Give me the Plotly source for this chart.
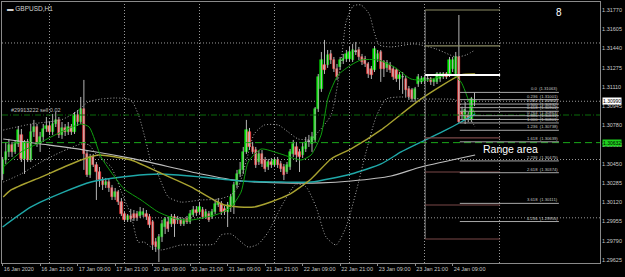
import plotly.graph_objects as go

# ---------------- data (GBPUSD H1) ----------------
opens = [1.30363,1.30483,1.30552,1.30612,1.30552,1.30621,1.30698,1.30492,1.30638,1.30483,
1.30724,1.30766,1.30621,1.30681,1.30749,1.30775,1.30724,1.30792,1.30827,1.30698,
1.30758,1.30724,1.30766,1.30724,1.30869,1.30809,1.30921,1.30535,1.30355,1.30509,
1.30440,1.30380,1.30311,1.30269,1.30295,1.30243,1.30166,1.30209,1.30123,1.30020,
1.29969,1.30003,1.30020,1.30020,1.30003,1.30011,1.30020,1.29994,1.29951,1.29780,
1.29720,1.29823,1.29908,1.29951,1.29934,1.29994,1.29969,1.29969,1.29934,1.29977,
1.29951,1.30011,1.30054,1.30037,1.30054,1.29994,1.30020,1.29994,1.30037,1.30097,
1.30106,1.30063,1.30037,1.30080,1.30097,1.30269,1.30363,1.30398,1.30552,1.30724,
1.30595,1.30569,1.30466,1.30535,1.30483,1.30423,1.30466,1.30440,1.30483,1.30449,
1.30423,1.30380,1.30423,1.30535,1.30595,1.30552,1.30526,1.30578,1.30638,1.30621,
1.30655,1.30921,1.31093,1.31298,1.31298,1.31393,1.31341,1.31264,1.31281,1.31333,
1.31350,1.31350,1.31341,1.31410,1.31427,1.31367,1.31350,1.31307,1.31264,1.31256,
1.31350,1.31410,1.31324,1.31273,1.31298,1.31264,1.31256,1.31178,1.31195,1.31178,
1.31093,1.31084,1.31007,1.31135,1.31153,1.31161,1.31178,1.31178,1.31153,1.31153,
1.31178,1.31195,1.31221,1.31213,1.31264,1.31221,1.31367,1.30895,1.30835,1.30869,
1.30827,1.30981]
highs = [1.30509,1.30638,1.30664,1.30638,1.30655,1.30775,1.30749,1.30655,1.30664,1.30792,
1.30827,1.30792,1.30724,1.30792,1.30852,1.30809,1.30878,1.30895,1.30852,1.30809,
1.30792,1.30809,1.30792,1.30895,1.30912,1.31024,1.31170,1.30569,1.30535,1.30535,
1.30466,1.30423,1.30337,1.30329,1.30320,1.30269,1.30243,1.30226,1.30157,1.30037,
1.30020,1.30063,1.30054,1.30046,1.30080,1.30071,1.30054,1.30020,1.29969,1.29814,
1.29848,1.29969,1.29994,1.29994,1.30020,1.30020,1.30003,1.29994,1.29986,1.30003,
1.30054,1.30088,1.30088,1.30123,1.30080,1.30063,1.30046,1.30063,1.30140,1.30157,
1.30131,1.30088,1.30123,1.30192,1.30295,1.30398,1.30466,1.30595,1.30827,1.30758,
1.30638,1.30595,1.30569,1.30569,1.30509,1.30492,1.30500,1.30509,1.30509,1.30475,
1.30449,1.30466,1.30578,1.30655,1.30638,1.30578,1.30638,1.30681,1.30698,1.30724,
1.30938,1.31221,1.31410,1.31513,1.31427,1.31427,1.31367,1.31307,1.31367,1.31393,
1.31427,1.31453,1.31479,1.31496,1.31453,1.31393,1.31376,1.31324,1.31290,1.31461,
1.31427,1.31427,1.31341,1.31341,1.31324,1.31290,1.31273,1.31238,1.31238,1.31204,
1.31118,1.31101,1.31110,1.31221,1.31204,1.31213,1.31204,1.31195,1.31187,1.31238,
1.31238,1.31238,1.31238,1.31367,1.31367,1.31410,1.31727,1.30938,1.30981,1.30895,
1.31024,1.31063]
lows = [1.30311,1.30449,1.30509,1.30509,1.30535,1.30595,1.30466,1.30363,1.30466,1.30466,
1.30681,1.30595,1.30552,1.30638,1.30724,1.30698,1.30698,1.30766,1.30672,1.30664,
1.30689,1.30698,1.30698,1.30706,1.30775,1.30792,1.30398,1.30337,1.30329,1.30423,
1.30140,1.30252,1.30226,1.30243,1.30209,1.30140,1.30140,1.30097,1.30003,1.29951,
1.29951,1.29951,1.29960,1.29960,1.29986,1.29994,1.29969,1.29900,1.29711,1.29694,
1.29608,1.29780,1.29848,1.29866,1.29908,1.29823,1.29934,1.29917,1.29917,1.29934,
1.29934,1.29994,1.30003,1.30020,1.29977,1.29977,1.29951,1.29977,1.30020,1.30080,
1.30011,1.30011,1.29908,1.30037,1.30020,1.30243,1.30337,1.30363,1.30535,1.30569,
1.30535,1.30415,1.30440,1.30423,1.30380,1.30398,1.30415,1.30423,1.30415,1.30380,
1.30311,1.30363,1.30398,1.30509,1.30466,1.30380,1.30500,1.30552,1.30595,1.30552,
1.30638,1.30895,1.31067,1.31221,1.31273,1.31307,1.31238,1.31170,1.31256,1.31307,
1.31324,1.31324,1.31324,1.31384,1.31341,1.31298,1.31281,1.31187,1.31178,1.31238,
1.31324,1.31153,1.31195,1.31238,1.31230,1.31170,1.31153,1.31084,1.31050,1.31024,
1.30998,1.30981,1.30981,1.31110,1.31135,1.31135,1.31153,1.31127,1.31118,1.31135,
1.31153,1.31178,1.31178,1.31195,1.31238,1.31204,1.30801,1.30827,1.30792,1.30809,
1.30809,1.30946]
closes = [1.30483,1.30552,1.30612,1.30552,1.30621,1.30741,1.30492,1.30638,1.30483,1.30724,
1.30766,1.30621,1.30681,1.30749,1.30775,1.30724,1.30792,1.30827,1.30698,1.30758,
1.30724,1.30766,1.30724,1.30869,1.30809,1.30921,1.30535,1.30355,1.30509,1.30440,
1.30380,1.30311,1.30269,1.30295,1.30243,1.30166,1.30209,1.30123,1.30020,1.29969,
1.30003,1.29977,1.29986,1.29986,1.30037,1.30037,1.29994,1.29926,1.29754,1.29737,
1.29823,1.29934,1.29977,1.29891,1.29994,1.29934,1.29969,1.29934,1.29960,1.29951,
1.30020,1.30054,1.30028,1.30080,1.29994,1.30037,1.29969,1.30037,1.30106,1.30123,
1.30037,1.30037,1.30097,1.30166,1.30269,1.30363,1.30398,1.30552,1.30741,1.30595,
1.30552,1.30440,1.30535,1.30449,1.30406,1.30466,1.30440,1.30483,1.30440,1.30406,
1.30355,1.30440,1.30552,1.30621,1.30526,1.30509,1.30595,1.30638,1.30638,1.30681,
1.30921,1.31195,1.31341,1.31256,1.31384,1.31341,1.31264,1.31195,1.31341,1.31350,
1.31393,1.31410,1.31427,1.31410,1.31367,1.31324,1.31307,1.31221,1.31213,1.31436,
1.31393,1.31264,1.31264,1.31316,1.31256,1.31195,1.31178,1.31213,1.31195,1.31084,
1.31024,1.31007,1.31093,1.31195,1.31178,1.31187,1.31178,1.31153,1.31170,1.31221,
1.31221,1.31221,1.31195,1.31341,1.31341,1.31367,1.30809,1.30869,1.30912,1.30843,
1.31007,1.30990]

time_labels = ["16 Jan 2020","16 Jan 21:00","17 Jan 09:00","17 Jan 21:00","20 Jan 09:00",
               "20 Jan 21:00","21 Jan 09:00","21 Jan 21:00","22 Jan 09:00","22 Jan 21:00",
               "23 Jan 09:00","23 Jan 21:00","24 Jan 09:00"]
label_bars = [0,12,24,36,48,60,72,84,96,108,120,132,144]
day_bars = [15,39,63,87,111,135,159]

price_labels = [1.31770,1.31605,1.31440,1.31275,1.31110,1.30945,1.30780,1.30615,
                1.30450,1.30285,1.30120,1.29955,1.29790,1.29625]
grid_prices = [1.31487,1.30987,1.30487,1.29987]

# indicator lines: (bar position, price)
ma_slow_x = [0.2,12.3,26.1,42.1,63.5,76.3,89.1,101.9,111.5,124.3,133.9,151.2]
ma_slow_y = [1.30663,1.30620,1.30569,1.30492,1.30363,1.30303,1.30286,1.30286,1.30303,1.30346,1.30423,1.30526]
ma_mid_x = [0,9.1,19.7,28.3,41.1,50.7,63.5,76.3,89.1,98.7,111.5,121.1,127.5,133.9,141.9,146.7,151.2]
ma_mid_y = [1.29908,1.30080,1.30209,1.30294,1.30346,1.30363,1.30337,1.30303,1.30294,1.30294,1.30363,1.30449,1.30552,1.30637,1.30741,1.30809,1.30878]
ma_yel_x = [0.2,2.7,12.3,25.1,30.6,41.1,49.8,60.3,70.9,80.5,91.4,98.7,105.1,111.5,121.1,133.9,146.7,151.2]
ma_yel_y = [1.30166,1.30226,1.30337,1.30483,1.30526,1.30483,1.30380,1.30252,1.30097,1.30080,1.30183,1.30320,1.30492,1.30578,1.30741,1.31007,1.31213,1.31221]
ma_fast_x = [0.2,5.9,12.3,18.7,25.1,27.7,31.5,34.7,38.9,44.3,49.8,55.5,60.3,69.0,73.1,76.3,78.6,82.7,89.1,95.5,98.7,101.9,104.2,107.4,111.5,114.7,120.2,125.3,130.7,136.2,143.5,146.7,149.3,151.2]
ma_fast_y = [1.30423,1.30552,1.30637,1.30723,1.30792,1.30766,1.30509,1.30380,1.30234,1.30140,1.30037,1.29977,1.29968,1.30020,1.30079,1.30208,1.30466,1.30577,1.30534,1.30483,1.30526,1.30697,1.31024,1.31213,1.31298,1.31341,1.31341,1.31281,1.31178,1.31169,1.31221,1.31152,1.30981,1.30878]
bb_up_x = [0.2,9.1,18.7,23.5,27.4,31.5,36.3,41.1,43.7,45.9,47.5,49.8,53.0,57.1,63.5,69.3,73.1,75.4,77.9,80.5,83.7,88.2,91.4,94.6,98.7,101.0,105.1,108.3,109.9,112.2,114.7,117.3,118.9,120.5,124.3,131.7,138.7,145.1,148.3,151.2]
bb_up_y = [1.30740,1.30792,1.30827,1.30895,1.30981,1.31006,1.31015,1.30998,1.30852,1.30637,1.30466,1.30354,1.30166,1.30122,1.30140,1.30148,1.30183,1.30252,1.30466,1.30706,1.30783,1.30783,1.30723,1.30663,1.30663,1.30723,1.30869,1.31324,1.31667,1.31805,1.31813,1.31736,1.31581,1.31470,1.31453,1.31479,1.31436,1.31367,1.31384,1.31427]
bb_dn_x = [0.2,5.9,12.3,18.7,25.1,27.7,29.9,34.7,38.9,41.1,43.4,45.3,47.5,50.7,57.1,63.5,67.7,69.9,73.1,78.6,81.8,85.0,89.1,93.9,97.1,100.3,103.5,106.7,109.9,113.1,116.3,119.5,122.7,127.5,133.9,140.3,145.1,148.3,151.2]
bb_dn_y = [1.30294,1.30363,1.30466,1.30552,1.30620,1.30612,1.30534,1.30423,1.30148,1.30011,1.29779,1.29779,1.29736,1.29711,1.29754,1.29754,1.29762,1.29840,1.29848,1.29736,1.29762,1.29865,1.30080,1.30277,1.30252,1.30080,1.29822,1.29754,1.29908,1.30208,1.30552,1.30852,1.31006,1.31024,1.31006,1.31006,1.30998,1.30895,1.30766]

fib_names = ["0.0","0.236","0.382","0.500","0.618","0.764","0.886","1.000",
             "1.236","1.618","2.236","2.618","3.618","4.236"]
fib_prices = [1.31063,1.31001,1.30963,1.30932,1.30901,1.30863,1.30831,1.30801,
              1.30738,1.30639,1.30475,1.30374,1.30111,1.29955]
fib_start, fib_end = 146.3, 178.0

range_levels = [1.31770,1.31462,1.31213,1.30672,1.30380,1.30097,1.29805]
range_colors = ["#8c8c64","#8c8c64","#ffffff","#7a4848","#7a4848","#7a4848","#7a4848"]
range_start, range_end = 135.2, 159.2

order_price = 1.30869
range_area_price = 1.30632
range_text_price = 1.30578
bid_price = closes[-1]

# ---------------- figure ----------------
n = len(closes)
xs = list(range(n))
fig = go.Figure()

# wicks
wx, wy = [], []
for i in range(n):
    wx += [i, i, None]
    wy += [lows[i], highs[i], None]
fig.add_trace(go.Scatter(x=wx, y=wy, mode="lines", line=dict(color="#b4b4b4", width=1),
                         hoverinfo="skip"))

# bodies
base, height, fill, edge = [], [], [], []
for i in range(n):
    o, c = opens[i], closes[i]
    base.append(min(o, c))
    h = abs(c - o)
    if h < 0.00004:
        height.append(0.00004)
        fill.append("#e0e0e0"); edge.append("#e0e0e0")
    else:
        height.append(h)
        if c > o:
            fill.append("#00f000"); edge.append("#00d800")
        else:
            fill.append("#ff8c8c"); edge.append("#ff2a2a")
fig.add_trace(go.Bar(x=xs, y=height, base=base, width=0.72,
                     marker=dict(color=fill, line=dict(color=edge, width=0.6))))

DOT = "1px,2px"

def line(xv, yv, color, width=1, dash="solid"):
    fig.add_trace(go.Scatter(x=xv, y=yv, mode="lines",
                             line=dict(color=color, width=width, dash=dash, shape="spline", smoothing=0.6),
                             hoverinfo="skip"))

line(ma_slow_x, ma_slow_y, "#bdbdbd", 1.2)
line(ma_mid_x, ma_mid_y, "#1fa8a8", 1.4)
line(ma_yel_x, ma_yel_y, "#a8a230", 1.4)
line(bb_up_x, bb_up_y, "#a8a8a8", 1, DOT)
line(bb_dn_x, bb_dn_y, "#a8a8a8", 1, DOT)
line(ma_fast_x, ma_fast_y, "#0fa00f", 1)

shapes = []
for b in day_bars:
    shapes.append(dict(type="line", xref="x", yref="paper", x0=b, x1=b, y0=0, y1=1,
                       line=dict(color="#9a9a9a", width=1, dash=DOT), layer="below"))
for p in grid_prices:
    shapes.append(dict(type="line", xref="paper", yref="y", x0=0, x1=1, y0=p, y1=p,
                       line=dict(color="#9a9a9a", width=1, dash=DOT), layer="below"))
# order line and range area line
shapes.append(dict(type="line", xref="paper", yref="y", x0=0, x1=1, y0=order_price, y1=order_price,
                   line=dict(color="#0a6a0a", width=1, dash="6px,2px,1px,2px")))
shapes.append(dict(type="line", xref="paper", yref="y", x0=0, x1=1, y0=range_area_price, y1=range_area_price,
                   line=dict(color="#1aa81a", width=1, dash="7px,4px")))
# range box lines
shapes.append(dict(type="line", xref="x", yref="y", x0=range_start, x1=range_start,
                   y0=range_levels[-1], y1=range_levels[0], line=dict(color="#8a8a8a", width=1)))
for p, col in zip(range_levels, range_colors):
    shapes.append(dict(type="line", xref="x", yref="y", x0=range_start, x1=range_end, y0=p, y1=p,
                       line=dict(color=col, width=2 if col == "#ffffff" else 1.2)))
# fibonacci
for p in fib_prices:
    shapes.append(dict(type="line", xref="x", yref="y", x0=fib_start, x1=fib_end, y0=p, y1=p,
                       line=dict(color="#a8a8a8", width=1)))

annotations = []
for name, p in zip(fib_names, fib_prices):
    annotations.append(dict(x=fib_end, y=p, xref="x", yref="y", text=f"{name}  ({p:.5f})",
                            showarrow=False, xanchor="right", yanchor="bottom", yshift=0, borderpad=0,
                            font=dict(size=4.2, color="#c8c8c8", family="Liberation Sans")))
annotations += [
    dict(x=0.005, y=0.995, xref="paper", yref="paper", text="▬ GBPUSD,H1", showarrow=False,
         xanchor="left", yanchor="top", font=dict(size=6.5, color="#d0d0d0", family="Liberation Sans")),
    dict(x=2, y=order_price, xref="x", yref="y", text="#29913222 sell 0.02", showarrow=False,
         xanchor="left", yanchor="bottom", yshift=0, font=dict(size=5.5, color="#c0c0c0", family="Liberation Sans")),
    dict(x=178.0, y=1.31747, xref="x", yref="y", text="8", showarrow=False,
         font=dict(size=10, color="#ffffff", family="Liberation Sans")),
    dict(x=162.4, y=range_text_price, xref="x", yref="y", text="Range area", showarrow=False,
         borderpad=0, font=dict(size=10.5, color="#ffffff", family="Liberation Sans")),
    dict(x=1, y=bid_price, xref="paper", yref="y", text=f"{bid_price:.5f}", showarrow=False,
         xanchor="left", xshift=2, bgcolor="#ffffff", borderpad=0,
         font=dict(size=5, color="#000000", family="Liberation Sans")),
    dict(x=1, y=range_area_price, xref="paper", yref="y", text=f"{range_area_price:.5f}", showarrow=False,
         xanchor="left", xshift=2, bgcolor="#1ed21e", borderpad=0,
         font=dict(size=5, color="#000000", family="Liberation Sans")),
]

fig.update_layout(
    width=625, height=277, margin=dict(l=2, r=25, t=2, b=14),
    paper_bgcolor="#000000", plot_bgcolor="#000000", showlegend=False,
    barmode="overlay", bargap=0, shapes=shapes, annotations=annotations,
    xaxis=dict(range=[-0.2, 191.16], tickvals=label_bars, ticktext=time_labels, tickangle=0,
               ticks="outside", ticklen=2, tickcolor="#8a8a8a", ticklabelposition="outside right",
               tickfont=dict(size=5.5, color="#c8c8c8", family="Liberation Sans"),
               showgrid=False, zeroline=False, showline=True, linecolor="#8a8a8a", mirror=True),
    yaxis=dict(range=[1.295993, 1.318386], side="right", tickvals=price_labels,
               ticktext=[f"{p:.5f}" for p in price_labels], ticks="",
               tickfont=dict(size=5.5, color="#c8c8c8", family="Liberation Sans"),
               showgrid=False, zeroline=False, showline=True, linecolor="#8a8a8a", mirror=True),
)
fig.write_html("out.html")
